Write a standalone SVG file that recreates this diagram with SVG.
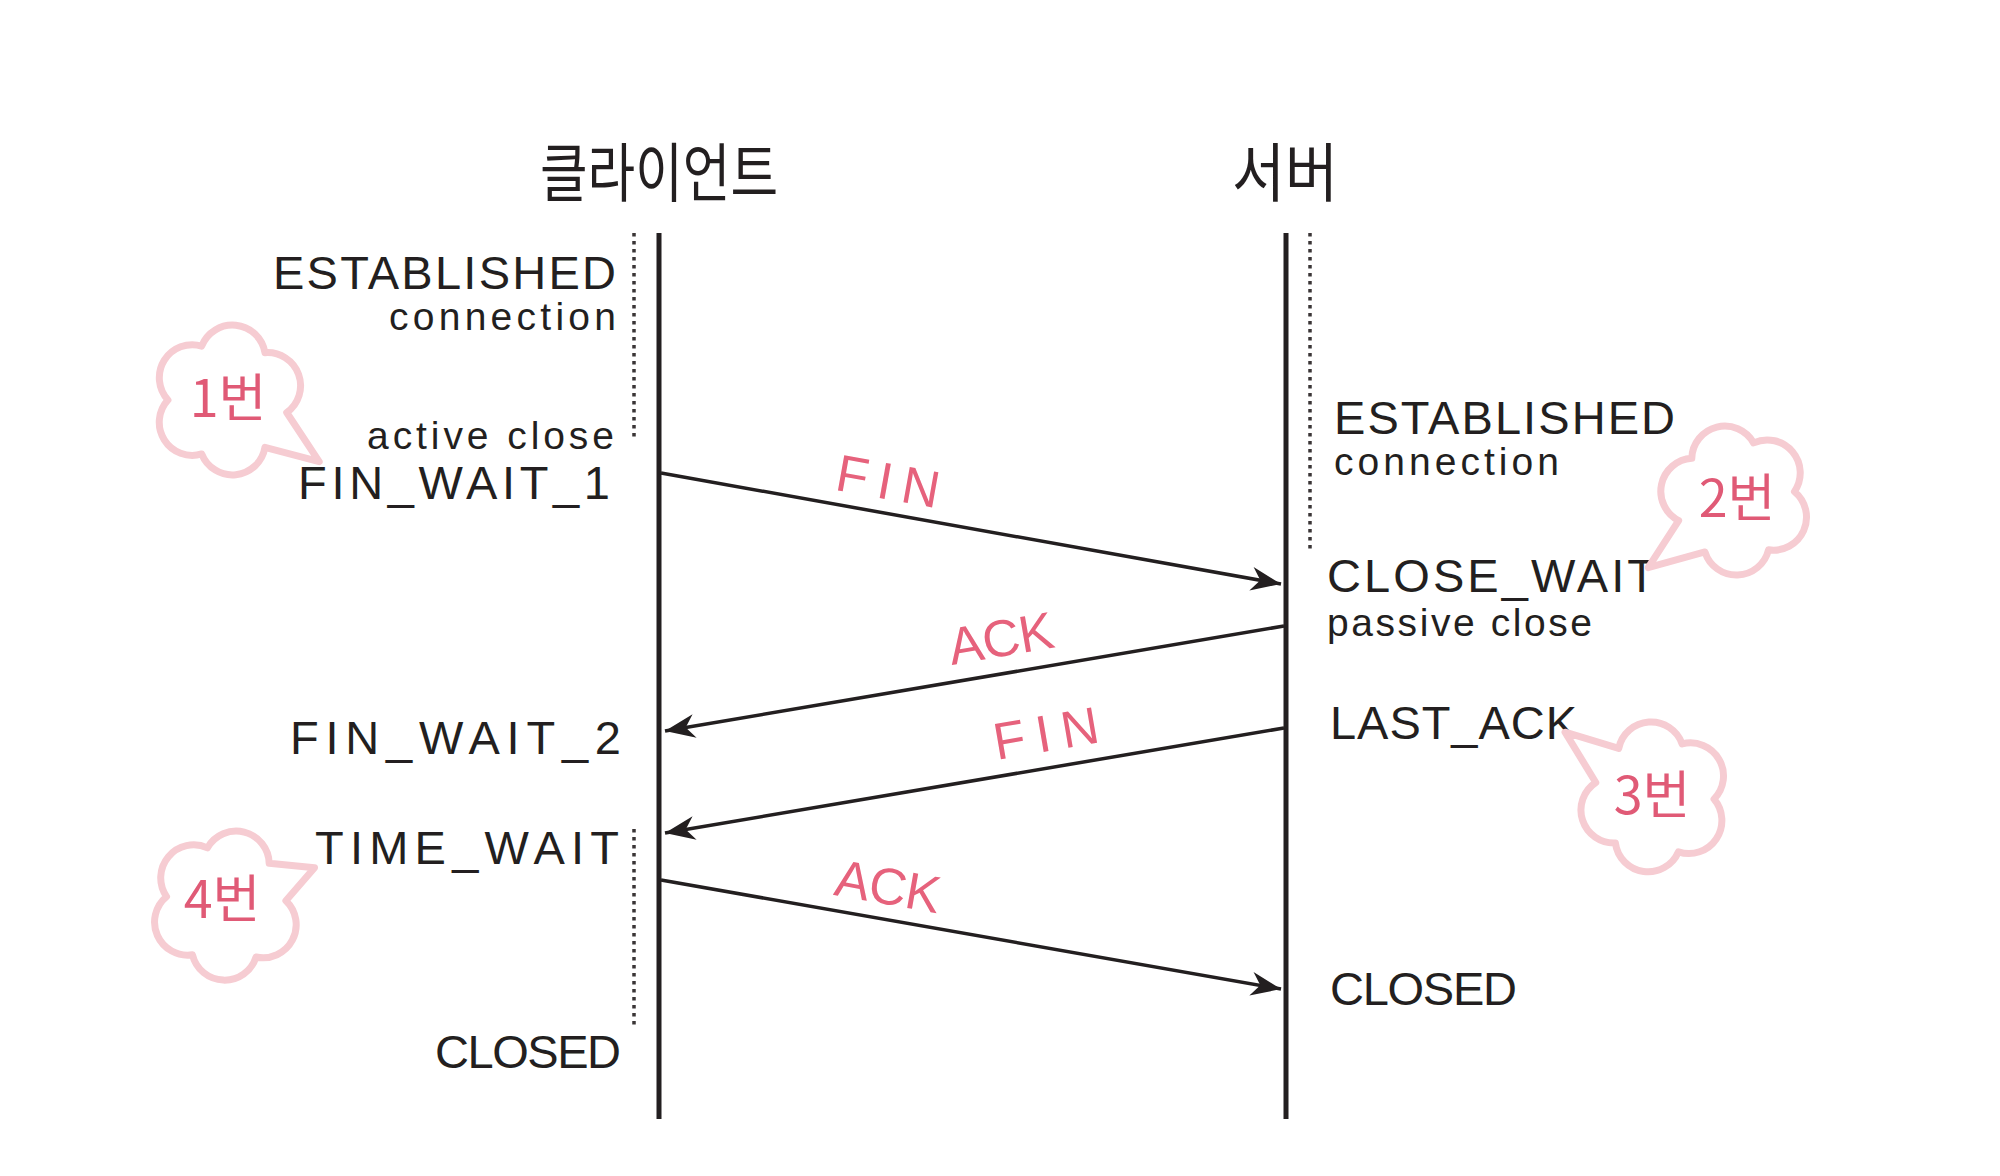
<svg xmlns="http://www.w3.org/2000/svg" width="2000" height="1176" viewBox="0 0 2000 1176">
<style>
.t{font-family:"Liberation Sans","Noto Sans",sans-serif;fill:#231f20}
.big{font-size:47px}
.small{font-size:39px}
.end{text-anchor:end}
.title{font-family:"Noto Sans CJK KR","Noto Sans",sans-serif;font-size:64px;fill:#231f20;text-anchor:middle}
.lbl{font-family:"Liberation Sans","Noto Sans",sans-serif;font-size:52px;fill:#e6627c;text-anchor:middle}
.num{font-family:"Noto Sans CJK KR","Noto Sans",sans-serif;font-size:52px;fill:#e05a76;text-anchor:middle}
.life{stroke:#231f20;stroke-width:5;fill:none}
.dot{stroke:#3a3536;stroke-width:3.5;stroke-dasharray:3.5 4.5;fill:none}
.msg{stroke:#231f20;stroke-width:3.5;fill:none;marker-end:url(#ah)}
.cloud{fill:#fff;stroke:#f6ccd2;stroke-width:7;stroke-linejoin:round}
</style>
<defs>
<marker id="ah" markerUnits="userSpaceOnUse" markerWidth="34" markerHeight="30" viewBox="-32 -15 34 30" refX="0" refY="0" orient="auto">
<path d="M0,0 L-30,-12 L-21,0 L-30,12 Z" fill="#231f20"/>
</marker>
<path id="cl" d="M56.4,20.5 A33,33 0 0 1 6.3,59.7 A33,33 0 0 1 -50.9,31.8 A33,33 0 0 1 -50.9,-31.8 A33,33 0 0 1 6.3,-59.7 A33,33 0 0 1 56.4,-20.5 L110,4 Z"/>
<path id="cl2" d="M56.4,20.5 A33,33 0 0 1 6.3,59.7 A33,33 0 0 1 -50.9,31.8 A33,33 0 0 1 -50.9,-31.8 A33,33 0 0 1 6.3,-59.7 A33,33 0 0 1 56.4,-20.5 L96,2 Z"/>
</defs>
<rect width="2000" height="1176" fill="#fff"/>

<g id="client">
<text class="title" x="659" y="196" textLength="238" lengthAdjust="spacingAndGlyphs">클라이언트</text>
<line class="life" x1="659" y1="233" x2="659" y2="1119"/>
</g>
<g id="server">
<text class="title" x="1285" y="196" textLength="106" lengthAdjust="spacingAndGlyphs">서버</text>
<line class="life" x1="1286" y1="233" x2="1286" y2="1119"/>
</g>

<g id="dotted">
<line class="dot" x1="634" y1="233" x2="634" y2="440"/>
<line class="dot" x1="1310" y1="233" x2="1310" y2="552"/>
<line class="dot" x1="634" y1="829" x2="634" y2="1027"/>
</g>

<g id="client-states">
<text class="t big end" x="616" y="289" textLength="343">ESTABLISHED</text>
<text class="t small end" x="616" y="330" textLength="227">connection</text>
<text class="t small end" x="614" y="449" textLength="247">active close</text>
<text class="t big end" x="610" y="499" textLength="312">FIN_WAIT_1</text>
<text class="t big end" x="621" y="754" textLength="331">FIN_WAIT_2</text>
<text class="t big end" x="619" y="864" textLength="304">TIME_WAIT</text>
<text class="t big end" x="621" y="1068" textLength="186">CLOSED</text>
</g>

<g id="server-states">
<text class="t big" x="1334" y="434" textLength="341">ESTABLISHED</text>
<text class="t small" x="1334" y="475" textLength="225">connection</text>
<text class="t big" x="1327" y="592" textLength="329">CLOSE_WAIT</text>
<text class="t small" x="1327" y="636" textLength="265">passive close</text>
<text class="t big" x="1330" y="739" textLength="247">LAST_ACK</text>
<text class="t big" x="1330" y="1005" textLength="187">CLOSED</text>
</g>

<g id="connectors">
<line class="msg" x1="661" y1="473" x2="1281" y2="584"/>
<line class="msg" x1="1284" y1="626" x2="665" y2="731"/>
<line class="msg" x1="1284" y1="728" x2="665" y2="833"/>
<line class="msg" x1="661" y1="880" x2="1281" y2="989"/>
</g>

<g id="labels">
<text class="lbl" transform="translate(885,499) rotate(10.2)" textLength="104">FIN</text>
<text class="lbl" transform="translate(1004,656) rotate(-9.7)" textLength="106">ACK</text>
<text class="lbl" transform="translate(1049,751) rotate(-9.7)" textLength="106">FIN</text>
<text class="lbl" transform="translate(885,904) rotate(10)" textLength="106">ACK</text>
</g>

<g id="note1">
<use href="#cl" class="cloud" transform="translate(228,400) rotate(32)"/>
<text class="num" x="228" y="417">1번</text>
</g>
<g id="note2">
<use href="#cl" class="cloud" transform="translate(1735,500) rotate(140)"/>
<text class="num" x="1737" y="517">2번</text>
</g>
<g id="note3">
<use href="#cl" class="cloud" transform="translate(1654,797) rotate(214)"/>
<text class="num" x="1652" y="814">3번</text>
</g>
<g id="note4">
<use href="#cl2" class="cloud" transform="translate(226,905) rotate(-24)"/>
<text class="num" x="222" y="918">4번</text>
</g>
</svg>
